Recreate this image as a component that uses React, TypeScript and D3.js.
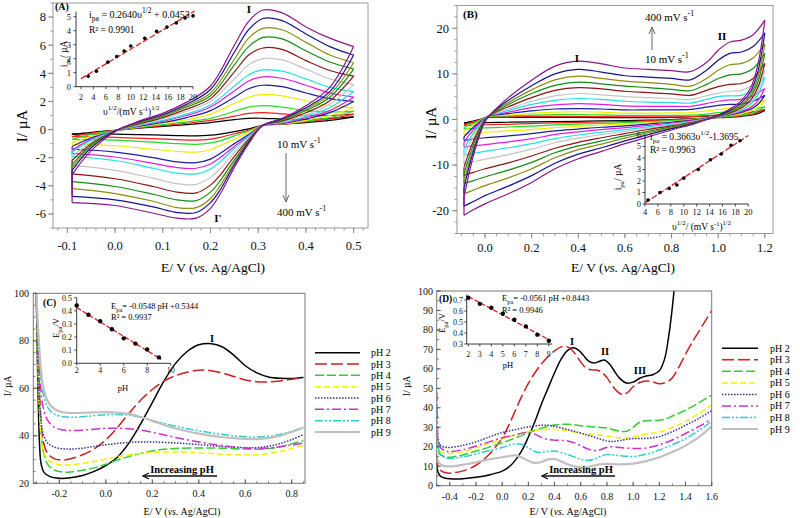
import React from 'react';
import * as d3 from 'd3';

const SERIF = '"Liberation Serif", "Times New Roman", serif';

// colour cycle for the CV families (innermost = slowest scan)
const cvColors = ['#000000', '#ff1c1c', '#22dd22', '#eeee00', '#1c1c9c', '#e020e0', '#20e0e0', '#c4c4c4', '#8c1414', '#148c14', '#8c8c14', '#14148c', '#8c148c'];

// ---------------- Panel A ----------------
const aAnodicE = [-0.09, -0.05, 0, 0.05, 0.1, 0.15, 0.2, 0.25, 0.28, 0.31, 0.35, 0.4, 0.45, 0.5];
const aAnodicI = [
  [-0.35, -0.2, -0.05, 0.1, 0.22, 0.35, 0.5, 0.7, 0.8, 0.8, 0.75, 0.7, 0.8, 0.9],
  [-0.5, -0.25, -0.05, 0.12, 0.28, 0.45, 0.65, 0.95, 1.15, 1.2, 1.12, 1.0, 1.0, 1.1],
  [-0.7, -0.35, -0.08, 0.15, 0.35, 0.55, 0.8, 1.3, 1.6, 1.7, 1.6, 1.35, 1.25, 1.3],
  [-0.95, -0.5, -0.1, 0.2, 0.45, 0.7, 1.1, 1.85, 2.3, 2.5, 2.4, 2.05, 1.7, 1.55],
  [-1.2, -0.6, -0.1, 0.25, 0.5, 0.85, 1.35, 2.3, 2.9, 3.15, 3.05, 2.6, 2.2, 2.0],
  [-1.45, -0.7, -0.1, 0.28, 0.6, 1.0, 1.6, 2.75, 3.45, 3.75, 3.65, 3.15, 2.6, 2.3],
  [-1.6, -0.75, -0.1, 0.3, 0.65, 1.1, 1.75, 3.1, 3.9, 4.25, 4.15, 3.6, 3.0, 2.7],
  [-1.9, -0.9, -0.1, 0.35, 0.75, 1.3, 2.0, 3.6, 4.6, 5.05, 4.95, 4.3, 3.6, 3.2],
  [-2.2, -1.0, -0.1, 0.4, 0.85, 1.45, 2.2, 4.1, 5.3, 5.8, 5.7, 4.9, 4.2, 3.8],
  [-2.5, -1.1, -0.1, 0.45, 0.95, 1.6, 2.4, 4.6, 5.9, 6.55, 6.45, 5.6, 4.8, 4.3],
  [-2.7, -1.2, -0.1, 0.5, 1.0, 1.7, 2.6, 5.0, 6.5, 7.2, 7.1, 6.2, 5.3, 4.75],
  [-2.9, -1.3, -0.1, 0.55, 1.05, 1.8, 2.85, 5.5, 7.1, 7.9, 7.75, 6.8, 5.9, 5.3],
  [-3.2, -1.5, -0.15, 0.6, 1.15, 1.95, 3.1, 6.0, 7.7, 8.5, 8.3, 7.3, 6.5, 5.9],
];
const aCathodicE = [0.5, 0.45, 0.4, 0.35, 0.31, 0.28, 0.25, 0.22, 0.2, 0.17, 0.13, 0.08, 0.0, -0.09];
const aCathodicI = [
  [0.9, 0.65, 0.5, 0.38, 0.3, 0.05, -0.15, -0.32, -0.4, -0.45, -0.43, -0.38, -0.33, -0.3],
  [1.1, 0.75, 0.55, 0.38, 0.3, -0.05, -0.3, -0.55, -0.68, -0.75, -0.72, -0.65, -0.55, -0.5],
  [1.3, 0.85, 0.6, 0.4, 0.3, -0.1, -0.45, -0.8, -0.95, -1.05, -1.0, -0.9, -0.75, -0.7],
  [1.55, 1.0, 0.65, 0.4, 0.3, -0.2, -0.7, -1.15, -1.45, -1.6, -1.55, -1.4, -1.15, -1.05],
  [2.0, 1.2, 0.75, 0.42, 0.3, -0.35, -1.0, -1.7, -2.1, -2.35, -2.3, -2.0, -1.6, -1.4],
  [2.3, 1.35, 0.85, 0.45, 0.3, -0.45, -1.2, -2.0, -2.45, -2.75, -2.7, -2.4, -1.95, -1.7],
  [2.7, 1.55, 0.95, 0.5, 0.3, -0.5, -1.35, -2.3, -2.8, -3.15, -3.1, -2.75, -2.2, -1.9],
  [3.2, 1.8, 1.05, 0.55, 0.3, -0.6, -1.65, -2.8, -3.4, -3.9, -3.85, -3.45, -2.9, -2.55],
  [3.8, 2.05, 1.2, 0.6, 0.3, -0.7, -1.9, -3.25, -3.95, -4.5, -4.45, -4.05, -3.5, -3.15],
  [4.3, 2.3, 1.35, 0.65, 0.3, -0.8, -2.15, -3.65, -4.45, -5.05, -5.0, -4.6, -4.05, -3.7],
  [4.75, 2.5, 1.45, 0.7, 0.3, -0.85, -2.35, -4.0, -4.9, -5.55, -5.55, -5.1, -4.55, -4.2],
  [5.3, 2.7, 1.55, 0.75, 0.3, -0.9, -2.5, -4.3, -5.2, -5.9, -5.9, -5.5, -5.0, -4.75],
  [5.9, 3.0, 1.7, 0.8, 0.3, -1.0, -2.7, -4.6, -5.6, -6.3, -6.3, -5.95, -5.4, -5.2],
];
const aXTicks = [-0.1, 0, 0.1, 0.2, 0.3, 0.4, 0.5];
const aYTicks = [-6, -4, -2, 0, 2, 4, 6, 8];
const aInsetX = [3.16, 4.47, 6.32, 7.75, 8.94, 10, 12.25, 14.14, 15.81, 17.32, 18.71, 20];
const aInsetY = [0.75, 1.1, 1.75, 2.15, 2.55, 2.9, 3.45, 3.95, 4.25, 4.55, 4.9, 5.05];
const aInsetErr = [0.08, 0.1, 0.08, 0.07, 0.1, 0.09, 0.1, 0.08, 0.07, 0.08, 0.1, 0.08];
const aInsetXTicks = [2, 4, 6, 8, 10, 12, 14, 16, 18, 20];
const aInsetYTicks = [0, 1, 2, 3, 4, 5];
const aFit = [0.264, 0.0453];

// ---------------- Panel B ----------------
const bAnodicE = [-0.09, -0.06, -0.03, 0.0, 0.02, 0.05, 0.1, 0.2, 0.3, 0.4, 0.5, 0.6, 0.7, 0.8, 0.88, 0.95, 1.0, 1.05, 1.1, 1.15, 1.2];
const bAnodicI = [
  [-0.8, -0.45, -0.1, 0.3, 0.5, 0.5, 0.5, 0.48, 0.46, 0.45, 0.42, 0.4, 0.4, 0.45, 0.6, 0.75, 0.9, 1.1, 1.3, 1.6, 2.0],
  [-1.2, -0.7, -0.2, 0.35, 0.6, 0.6, 0.62, 0.68, 0.7, 0.7, 0.65, 0.6, 0.58, 0.58, 0.6, 0.8, 1.0, 1.2, 1.4, 1.7, 2.2],
  [-1.8, -1.0, -0.35, 0.4, 0.7, 0.75, 0.8, 0.95, 1.05, 1.1, 1.0, 0.9, 0.9, 0.92, 0.95, 1.2, 1.5, 1.7, 1.9, 2.2, 2.8],
  [-2.6, -1.5, -0.6, 0.4, 0.8, 0.85, 1.0, 1.35, 1.6, 1.7, 1.6, 1.4, 1.4, 1.45, 1.5, 1.9, 2.2, 2.5, 2.6, 3.1, 4.2],
  [-3.8, -2.2, -0.9, 0.4, 0.85, 1.0, 1.3, 1.9, 2.3, 2.4, 2.3, 2.1, 2.1, 2.1, 2.2, 2.7, 3.1, 3.3, 3.4, 4.0, 5.3],
  [-5, -2.9, -1.2, 0.3, 0.9, 1.1, 1.6, 2.6, 3.2, 3.5, 3.3, 3.0, 2.9, 2.9, 2.9, 3.5, 4.0, 4.3, 4.4, 5.2, 6.8],
  [-6.5, -3.8, -1.6, 0.2, 0.9, 1.3, 2.0, 3.3, 4.2, 4.6, 4.4, 4.0, 3.8, 3.7, 3.6, 4.4, 5.0, 5.2, 5.3, 6.5, 9.3],
  [-8, -4.8, -2.1, 0.1, 0.9, 1.5, 2.3, 4.0, 5.2, 5.7, 5.4, 5.0, 4.8, 4.6, 4.4, 5.2, 5.8, 6.2, 6.4, 7.6, 10.8],
  [-10.5, -6, -2.6, 0, 0.9, 1.7, 2.8, 4.8, 6.4, 7.0, 6.7, 6.2, 5.9, 5.6, 5.3, 6.4, 7.2, 7.7, 7.9, 9.0, 12.3],
  [-12, -7, -3, -0.1, 0.9, 1.9, 3.3, 5.7, 7.5, 8.2, 7.8, 7.3, 7.0, 6.6, 6.3, 7.7, 9.0, 9.8, 10.0, 11.2, 14.5],
  [-13.5, -8, -3.5, -0.2, 0.9, 2.1, 3.7, 6.5, 8.7, 9.5, 9.0, 8.4, 8.1, 7.7, 7.3, 9.0, 10.8, 12.0, 12.3, 13.5, 16.6],
  [-15, -8.8, -4, -0.3, 0.9, 2.3, 4.2, 7.4, 10.0, 11.0, 10.4, 9.6, 9.3, 9.0, 8.7, 10.8, 13.0, 14.5, 14.8, 16.0, 19.0],
  [-17, -10, -4.5, -0.5, 0.9, 2.5, 4.8, 8.6, 11.7, 12.8, 12.2, 11.3, 11.0, 10.7, 10.5, 12.5, 15.2, 17.0, 17.4, 18.6, 21.8],
];
const bCathodicE = [1.2, 1.17, 1.14, 1.1, 1.05, 1.0, 0.95, 0.9, 0.8, 0.7, 0.6, 0.5, 0.4, 0.3, 0.2, 0.1, 0.0, -0.05, -0.09];
const bCathodicI = [
  [2.0, 1.3, 0.95, 0.7, 0.5, 0.4, 0.3, 0.2, 0.0, -0.15, -0.25, -0.32, -0.4, -0.45, -0.52, -0.6, -0.68, -0.75, -0.8],
  [2.2, 1.5, 1.1, 0.8, 0.6, 0.45, 0.3, 0.15, -0.1, -0.3, -0.45, -0.55, -0.65, -0.75, -0.9, -1.05, -1.15, -1.25, -1.3],
  [2.8, 1.9, 1.4, 1.0, 0.7, 0.5, 0.3, 0.1, -0.25, -0.5, -0.7, -0.85, -1.0, -1.2, -1.45, -1.65, -1.85, -1.95, -2.05],
  [4.2, 2.7, 1.9, 1.3, 0.9, 0.55, 0.25, 0, -0.45, -0.75, -1.0, -1.25, -1.5, -1.8, -2.2, -2.5, -2.8, -3.0, -3.2],
  [5.3, 3.3, 2.3, 1.6, 1.0, 0.6, 0.25, -0.1, -0.6, -1.0, -1.4, -1.7, -2.1, -2.5, -3.1, -3.6, -4.0, -4.3, -4.6],
  [6.8, 4.1, 2.7, 1.8, 1.1, 0.6, 0.2, -0.2, -0.8, -1.3, -1.8, -2.2, -2.7, -3.3, -4.2, -4.9, -5.5, -5.8, -6.1],
  [9.3, 5.4, 3.4, 2.1, 1.2, 0.6, 0.15, -0.3, -1.0, -1.6, -2.2, -2.8, -3.4, -4.2, -5.3, -6.2, -7.0, -7.4, -7.8],
  [10.8, 6.2, 3.8, 2.3, 1.3, 0.7, 0.1, -0.4, -1.2, -1.9, -2.6, -3.3, -4.1, -5.1, -6.5, -7.7, -8.7, -9.3, -9.8],
  [12.3, 7.0, 4.3, 2.6, 1.4, 0.7, 0.05, -0.5, -1.4, -2.2, -3.1, -4.0, -5.0, -6.3, -8.0, -9.5, -10.8, -11.6, -12.3],
  [14.5, 8.2, 5.0, 3.0, 1.6, 0.8, 0, -0.6, -1.6, -2.6, -3.6, -4.7, -5.8, -7.3, -9.4, -11.1, -12.6, -13.4, -14],
  [16.6, 9.2, 5.5, 3.3, 1.8, 0.8, 0, -0.7, -1.8, -2.9, -4.1, -5.4, -6.6, -8.4, -10.8, -12.8, -14.5, -15.5, -16.3],
  [19.0, 10.5, 6.2, 3.7, 2.0, 0.9, 0, -0.8, -2.0, -3.3, -4.7, -6.2, -7.6, -9.6, -12.3, -14.6, -16.7, -18, -19],
  [21.8, 12, 7, 4.2, 2.3, 1.0, 0, -0.9, -2.3, -3.8, -5.3, -7.0, -8.6, -10.8, -13.8, -16.3, -18.5, -19.8, -21],
];
const bXTicks = [0, 0.2, 0.4, 0.6, 0.8, 1.0, 1.2];
const bYTicks = [-20, -10, 0, 10, 20];
const bInsetX = [4.47, 6.32, 7.75, 8.94, 10, 12.25, 14.14, 15.81, 17.32, 18.71];
const bInsetY = [0.35, 1.0, 1.35, 1.65, 2.25, 3.0, 3.85, 4.35, 5.1, 5.5];
const bInsetXTicks = [4, 6, 8, 10, 12, 14, 16, 18, 20];
const bInsetYTicks = [0, 1, 2, 3, 4, 5, 6];
const bFit = [0.3663, -1.3695];

// ---------------- Panels C & D (pH) ----------------
const phLabels = ['pH 2', 'pH 3', 'pH 4', 'pH 5', 'pH 6', 'pH 7', 'pH 8', 'pH 9'];
const phColors = ['#000000', '#cc2020', '#33cc33', '#f2f200', '#303090', '#cc30cc', '#30cccc', '#c0c0c0'];
const phDash = ['', '12,4', '9,3', '6,3', '1.5,1.5', '9,3,2,3', '8,2,2,2,2,2', ''];
const phWidth = [1.5, 1.5, 1.5, 1.5, 1.5, 1.5, 1.5, 2.2];

const cPH2 = [[-0.3, 105], [-0.292, 60], [-0.285, 36], [-0.278, 28], [-0.265, 24.5], [-0.24, 22.8], [-0.2, 22.1], [-0.16, 22.2], [-0.1, 23.3], [-0.05, 25], [0, 27.5], [0.05, 31], [0.1, 37], [0.15, 45], [0.2, 54], [0.25, 63], [0.3, 70.5], [0.35, 75.5], [0.4, 78.3], [0.455, 78.8], [0.5, 77.5], [0.55, 74], [0.6, 69.5], [0.65, 66.5], [0.7, 64.8], [0.75, 64.2], [0.8, 64.1], [0.85, 64.5]];
const cPH3 = [[-0.3, 105], [-0.29, 70], [-0.28, 48], [-0.27, 38], [-0.25, 32.5], [-0.22, 30.3], [-0.19, 29.8], [-0.15, 30.3], [-0.1, 32], [-0.05, 34.5], [0, 38.3], [0.05, 43.5], [0.1, 49.5], [0.15, 55], [0.2, 59.5], [0.25, 63], [0.3, 65.3], [0.35, 66.8], [0.4, 67.6], [0.43, 67.7], [0.5, 66.5], [0.55, 65], [0.6, 63.5], [0.65, 62.8], [0.7, 62.7], [0.75, 63.1], [0.8, 63.8], [0.85, 64.5]];
const cPH4 = [[-0.3, 105], [-0.29, 65], [-0.28, 44], [-0.27, 34], [-0.25, 28], [-0.22, 25.5], [-0.18, 24.7], [-0.15, 24.8], [-0.1, 25.5], [-0.05, 26.5], [0, 28], [0.05, 29.8], [0.1, 31.3], [0.15, 32.6], [0.2, 33.6], [0.25, 34.3], [0.3, 34.7], [0.4, 34.9], [0.5, 34.8], [0.6, 34.4], [0.65, 34.3], [0.7, 34.6], [0.75, 35.4], [0.8, 36.6], [0.85, 38]];
const cPH5 = [[-0.3, 105], [-0.29, 60], [-0.28, 42], [-0.27, 34], [-0.25, 30], [-0.22, 28.3], [-0.18, 27.7], [-0.15, 27.8], [-0.1, 28.4], [-0.05, 29.2], [0, 30.2], [0.05, 31.2], [0.1, 32], [0.15, 32.6], [0.2, 33], [0.3, 33.2], [0.4, 32.8], [0.5, 32.2], [0.6, 31.9], [0.65, 32], [0.7, 32.5], [0.75, 33.4], [0.8, 34.6], [0.85, 36]];
const cPH6 = [[-0.3, 105], [-0.29, 62], [-0.28, 48], [-0.27, 41], [-0.25, 37], [-0.22, 35.2], [-0.18, 34.5], [-0.15, 34.4], [-0.1, 34.8], [-0.05, 35.5], [0, 36.2], [0.05, 36.8], [0.1, 37.2], [0.15, 37.4], [0.2, 37.4], [0.3, 37], [0.4, 36.3], [0.5, 35.5], [0.6, 35], [0.65, 35], [0.7, 35.6], [0.75, 36.7], [0.8, 38.4], [0.85, 40.5]];
const cPH7 = [[-0.3, 105], [-0.29, 75], [-0.28, 60], [-0.27, 52], [-0.25, 46.5], [-0.22, 43.5], [-0.18, 42.4], [-0.15, 42.2], [-0.1, 42.4], [-0.05, 42.8], [0, 43.1], [0.05, 43.2], [0.1, 43], [0.15, 42.4], [0.2, 41.5], [0.25, 40.4], [0.3, 39.3], [0.35, 38.3], [0.4, 37.4], [0.45, 36.6], [0.5, 35.9], [0.55, 35.3], [0.6, 34.9], [0.65, 34.7], [0.7, 34.9], [0.75, 35.4], [0.8, 36.1], [0.85, 37]];
const cPH8 = [[-0.3, 105], [-0.29, 80], [-0.28, 66], [-0.27, 58], [-0.25, 52], [-0.22, 49], [-0.18, 48], [-0.15, 47.8], [-0.1, 48], [-0.05, 48.5], [0, 48.9], [0.05, 49], [0.1, 48.7], [0.15, 47.8], [0.2, 46.5], [0.25, 45.2], [0.3, 44], [0.35, 43], [0.4, 42.1], [0.45, 41.3], [0.5, 40.6], [0.55, 40], [0.6, 39.6], [0.65, 39.5], [0.7, 39.8], [0.75, 40.6], [0.8, 41.9], [0.85, 43.5]];
const cPH9 = [[-0.3, 105], [-0.29, 83], [-0.28, 69], [-0.27, 61], [-0.25, 54.5], [-0.22, 51.2], [-0.18, 49.8], [-0.15, 49.6], [-0.1, 49.7], [-0.05, 49.9], [0, 50], [0.05, 49.8], [0.1, 49.2], [0.15, 47.9], [0.2, 46.3], [0.25, 44.6], [0.3, 43.1], [0.35, 41.9], [0.4, 40.9], [0.45, 40.1], [0.5, 39.5], [0.55, 39], [0.6, 38.7], [0.65, 38.6], [0.7, 39], [0.75, 40], [0.8, 41.6], [0.85, 43.5]];
const cCurves = [cPH2, cPH3, cPH4, cPH5, cPH6, cPH7, cPH8, cPH9];
const cXTicks = [-0.2, 0, 0.2, 0.4, 0.6, 0.8];
const cYTicks = [20, 40, 60, 80, 100];
const cInsetPH = [2, 3, 4, 5, 6, 7, 8, 9];
const cInsetE = [0.44, 0.37, 0.32, 0.26, 0.19, 0.15, 0.105, 0.045];
const cInsetXTicks = [2, 4, 6, 8, 10];
const cInsetYTicks = [0, 0.1, 0.2, 0.3, 0.4, 0.5];
const cFit = [-0.0548, 0.5344];

const dPH2 = [[-0.5, 12], [-0.49, 7], [-0.47, 4.8], [-0.44, 4], [-0.4, 3.6], [-0.35, 3.5], [-0.3, 3.6], [-0.2, 4.3], [-0.1, 5.5], [0, 7.5], [0.05, 9.5], [0.1, 13], [0.15, 18], [0.2, 25], [0.25, 33], [0.3, 42], [0.35, 50], [0.4, 58], [0.45, 65], [0.5, 69.5], [0.54, 70.8], [0.58, 69.8], [0.62, 67], [0.66, 64], [0.7, 63], [0.74, 63.8], [0.78, 64.6], [0.82, 62.5], [0.86, 58.5], [0.9, 55], [0.95, 52.7], [1.0, 53.2], [1.05, 55.2], [1.1, 56.3], [1.15, 57], [1.2, 59], [1.24, 65], [1.27, 76], [1.3, 92], [1.32, 106]];
const dPH3 = [[-0.5, 16], [-0.49, 10], [-0.46, 7.3], [-0.42, 6.5], [-0.38, 6.6], [-0.3, 7.6], [-0.2, 10.5], [-0.1, 16], [0, 24.5], [0.05, 31], [0.1, 38.5], [0.15, 46], [0.2, 52.5], [0.25, 58], [0.3, 62.5], [0.35, 66.3], [0.4, 69.3], [0.45, 71.3], [0.48, 71.6], [0.52, 70.5], [0.56, 67.5], [0.6, 63.5], [0.64, 60.5], [0.68, 59.5], [0.72, 59.4], [0.76, 58.3], [0.8, 55.5], [0.84, 51.5], [0.88, 48.3], [0.92, 46.8], [0.96, 48], [1.0, 50.8], [1.05, 53], [1.1, 53.8], [1.15, 53.3], [1.2, 52.4], [1.25, 53], [1.3, 55.5], [1.35, 61], [1.4, 67.5], [1.45, 73.5], [1.5, 79], [1.55, 84.5], [1.6, 90]];
const dPH4 = [[-0.5, 24], [-0.49, 18], [-0.47, 15.8], [-0.43, 14.8], [-0.4, 14.6], [-0.3, 15.8], [-0.2, 17.8], [-0.1, 19.8], [0, 22], [0.1, 24.5], [0.2, 27.2], [0.3, 29.5], [0.4, 31.2], [0.5, 31.6], [0.6, 30.8], [0.7, 30.2], [0.8, 29.6], [0.9, 28], [0.95, 28], [1.0, 30], [1.05, 32.6], [1.1, 33.4], [1.2, 33.6], [1.25, 34.3], [1.3, 35.8], [1.4, 38.8], [1.5, 42.5], [1.6, 46.5]];
const dPH5 = [[-0.5, 22], [-0.49, 18.5], [-0.46, 17], [-0.42, 16.6], [-0.3, 17.5], [-0.2, 19.5], [-0.1, 21.8], [0, 24], [0.1, 26.2], [0.2, 27.8], [0.3, 28.8], [0.4, 28.9], [0.5, 28.2], [0.6, 27], [0.7, 26.3], [0.8, 25.5], [0.9, 24.5], [1.0, 25], [1.1, 26.5], [1.2, 27.5], [1.3, 30], [1.4, 33], [1.5, 37], [1.6, 41.5]];
const dPH6 = [[-0.5, 30], [-0.49, 23], [-0.46, 20.3], [-0.42, 19.6], [-0.35, 20], [-0.3, 20.7], [-0.2, 22.5], [-0.1, 25], [0, 27.3], [0.1, 28.8], [0.2, 30.2], [0.3, 31], [0.35, 31], [0.4, 30.4], [0.5, 28.8], [0.6, 27], [0.7, 25], [0.8, 23], [0.85, 22.7], [0.9, 23.2], [1.0, 24.2], [1.1, 24.3], [1.2, 25.2], [1.3, 27.8], [1.4, 31], [1.5, 34.5], [1.6, 38.5]];
const dPH7 = [[-0.5, 48], [-0.495, 35], [-0.49, 25], [-0.47, 19.5], [-0.43, 17.8], [-0.4, 17.5], [-0.3, 18.5], [-0.2, 20.3], [-0.1, 22.5], [0, 24.6], [0.1, 26], [0.15, 27], [0.2, 27.3], [0.25, 26.5], [0.3, 24.8], [0.35, 23.7], [0.4, 23.4], [0.45, 23.3], [0.5, 23], [0.55, 22], [0.6, 20.5], [0.65, 19], [0.7, 18], [0.75, 18.5], [0.8, 19.8], [0.85, 20], [0.9, 19.6], [1.0, 19.1], [1.1, 19.4], [1.2, 21], [1.3, 23.5], [1.4, 26.8], [1.5, 30.3], [1.6, 34.2]];
const dPH8 = [[-0.5, 40], [-0.495, 30], [-0.49, 21], [-0.47, 16], [-0.43, 14.3], [-0.4, 14], [-0.3, 14.8], [-0.2, 16.3], [-0.1, 18], [0, 19.6], [0.05, 20.7], [0.1, 21.5], [0.15, 21.2], [0.2, 19.5], [0.25, 17.6], [0.3, 17.1], [0.35, 17.6], [0.4, 17.8], [0.45, 17], [0.5, 16], [0.55, 14.8], [0.6, 13.6], [0.65, 13], [0.7, 13.5], [0.75, 15], [0.8, 16], [0.85, 15.8], [0.9, 15.4], [1.0, 15], [1.1, 16.2], [1.2, 18.3], [1.3, 21], [1.4, 24.2], [1.5, 28.3], [1.6, 33]];
const dPH9 = [[-0.5, 16], [-0.49, 12.5], [-0.46, 10.5], [-0.42, 9.9], [-0.35, 10.2], [-0.3, 10.8], [-0.2, 12], [-0.1, 13.5], [0, 14.6], [0.05, 15.2], [0.1, 15.6], [0.15, 14.5], [0.2, 12.8], [0.25, 11.7], [0.3, 12.2], [0.35, 13.5], [0.4, 13.7], [0.45, 12.5], [0.5, 11], [0.55, 10], [0.6, 9.5], [0.65, 9.5], [0.7, 10.3], [0.75, 11], [0.8, 11.2], [0.9, 11], [1.0, 11.3], [1.1, 12.6], [1.2, 14.6], [1.3, 17.3], [1.4, 20.6], [1.5, 24.8], [1.6, 30.5]];
const dCurves = [dPH2, dPH3, dPH4, dPH5, dPH6, dPH7, dPH8, dPH9];
const dXTicks = [-0.4, -0.2, 0, 0.2, 0.4, 0.6, 0.8, 1.0, 1.2, 1.4, 1.6];
const dYTicks = [0, 10, 20, 30, 40, 50, 60, 70, 80, 90, 100];
const dInsetPH = [2, 3, 4, 5, 6, 7, 8, 9];
const dInsetE = [0.72, 0.665, 0.63, 0.575, 0.52, 0.46, 0.385, 0.33];
const dInsetXTicks = [2, 3, 4, 5, 6, 7, 8, 9];
const dInsetYTicks = [0.3, 0.4, 0.5, 0.6, 0.7];
const dFit = [-0.0561, 0.8443];

const fmt1 = (v: number) => (Math.abs(v) < 1e-9 ? '0.0' : v.toFixed(1));
const fmt0 = (v: number) => String(Math.round(v));

function Ticks({ x, y, xt, yt, xMinor, yMinor, out, len = 5, color = '#777', xFmt, yFmt, fs, xLabY, yLabX }: any) {
  const [x0] = x.range();
  const [y0] = y.range();
  const dir = out ? 1 : -1;
  return (
    <g>
      {xMinor.map((v: number, i: number) => (
        <line key={'xm' + i} x1={x(v)} x2={x(v)} y1={y0} y2={y0 + dir * len * 0.55} stroke={color} strokeWidth={0.8} />
      ))}
      {yMinor.map((v: number, i: number) => (
        <line key={'ym' + i} x1={x0} x2={x0 - dir * len * 0.55} y1={y(v)} y2={y(v)} stroke={color} strokeWidth={0.8} />
      ))}
      {xt.map((v: number, i: number) => (
        <g key={'xt' + i}>
          <line x1={x(v)} x2={x(v)} y1={y0} y2={y0 + dir * len} stroke={color} strokeWidth={1} />
          <text x={x(v)} y={xLabY} textAnchor="middle" fontSize={fs} fontFamily={SERIF} fill="#111">{xFmt(v)}</text>
        </g>
      ))}
      {yt.map((v: number, i: number) => (
        <g key={'yt' + i}>
          <line x1={x0} x2={x0 - dir * len} y1={y(v)} y2={y(v)} stroke={color} strokeWidth={1} />
          <text x={yLabX} y={y(v)} dy="0.35em" textAnchor="end" fontSize={fs} fontFamily={SERIF} fill="#111">{yFmt(v)}</text>
        </g>
      ))}
    </g>
  );
}

function Inset({ x, y, xt, yt, xFmt, yFmt, xLabY, yLabX, fs = 8 }: any) {
  const [x0, x1] = x.range();
  const [y0, y1] = y.range();
  return (
    <g>
      <line x1={x0} x2={x1} y1={y0} y2={y0} stroke="#222" strokeWidth={0.9} />
      <line x1={x0} x2={x0} y1={y0} y2={y1} stroke="#222" strokeWidth={0.9} />
      {xt.map((v: number, i: number) => (
        <g key={'x' + i}>
          <line x1={x(v)} x2={x(v)} y1={y0} y2={y0 + 2.5} stroke="#222" strokeWidth={0.8} />
          <text x={x(v)} y={xLabY} textAnchor="middle" fontSize={fs} fontFamily={SERIF} fill="#111">{xFmt(v)}</text>
        </g>
      ))}
      {yt.map((v: number, i: number) => (
        <g key={'y' + i}>
          <line x1={x0} x2={x0 - 2.5} y1={y(v)} y2={y(v)} stroke="#222" strokeWidth={0.8} />
          <text x={yLabX} y={y(v)} dy="0.35em" textAnchor="end" fontSize={fs} fontFamily={SERIF} fill="#111">{yFmt(v)}</text>
        </g>
      ))}
    </g>
  );
}

function VArrow({ x, y1, y2, color = '#666' }: any) {
  const d = y2 > y1 ? 1 : -1;
  return (
    <g stroke={color} fill="none" strokeWidth={1}>
      <line x1={x} x2={x} y1={y1} y2={y2} />
      <path d={`M${x - 3},${y2 - d * 7} L${x},${y2} L${x + 3},${y2 - d * 7}`} />
    </g>
  );
}

function HArrow({ x1, x2, y }: any) {
  return (
    <g stroke="#111" fill="none" strokeWidth={1.3}>
      <line x1={x1} x2={x2} y1={y} y2={y} />
      <path d={`M${x2 + 6},${y - 3} L${x2},${y} L${x2 + 6},${y + 3}`} />
    </g>
  );
}

export default function App() {
  const curve = d3.curveCatmullRom.alpha(0.5);

  const ax = d3.scaleLinear().domain([-0.13, 0.53]).range([53, 368]);
  const ay = d3.scaleLinear().domain([-7, 9]).range([228, 3]);
  const aLine = d3.line<number[]>().x(d => ax(d[0])).y(d => ay(d[1])).curve(curve);
  const aix = d3.scaleLinear().domain([1.2, 20]).range([76, 193]);
  const aiy = d3.scaleLinear().domain([0, 5.35]).range([86.7, 11.7]);

  const bx = d3.scaleLinear().domain([-0.12, 1.235]).range([457, 773]);
  const by = d3.scaleLinear().domain([-25, 25]).range([233.5, 5.5]);
  const bLine = d3.line<number[]>().x(d => bx(d[0])).y(d => by(d[1])).curve(curve);
  const bix = d3.scaleLinear().domain([4, 20]).range([645, 748.3]);
  const biy = d3.scaleLinear().domain([0, 6]).range([204, 135]);

  const cx = d3.scaleLinear().domain([-0.312, 0.857]).range([33.3, 305]);
  const cy = d3.scaleLinear().domain([20, 100]).range([483.3, 293.3]);
  const cLine = d3.line<number[]>().x(d => cx(d[0])).y(d => cy(d[1])).curve(curve);
  const cix = d3.scaleLinear().domain([2, 10]).range([76.7, 170.7]);
  const ciy = d3.scaleLinear().domain([0, 0.5]).range([363.3, 297.7]);

  const dx = d3.scaleLinear().domain([-0.5, 1.6]).range([436.7, 711.7]);
  const dy = d3.scaleLinear().domain([0, 100]).range([485.7, 291]);
  const dLine = d3.line<number[]>().x(d => dx(d[0])).y(d => dy(d[1])).curve(curve);
  const dix = d3.scaleLinear().domain([1.86, 9.3]).range([466.7, 552.3]);
  const diy = d3.scaleLinear().domain([0.3, 0.75]).range([344, 294.5]);

  const rng = (a: number, b: number, s: number) => d3.range(Math.round(a / s), Math.round(b / s) + 1).map(k => +(k * s).toFixed(4));

  const legendRowsC = phLabels.map((_, i) => 352.7 + i * 11.33);
  const legendRowsD = phLabels.map((_, i) => 348.3 + i * 11.53);

  return (
    <svg width={800} height={518} style={{ position: 'absolute', left: 0, top: 0, background: '#fff' }} fontFamily={SERIF}>
      <defs>
        <clipPath id="clipA"><rect x={53} y={3} width={315} height={225} /></clipPath>
        <clipPath id="clipB"><rect x={457} y={5.5} width={316} height={228} /></clipPath>
        <clipPath id="clipC"><rect x={33.3} y={293.3} width={271.7} height={190} /></clipPath>
        <clipPath id="clipD"><rect x={436.7} y={291} width={275} height={194.7} /></clipPath>
      </defs>
      <rect x={0} y={0} width={800} height={518} fill="#fff" />

      {/* ================= Panel A ================= */}
      <g clipPath="url(#clipA)">
        {aAnodicI.map((ys, k) => {
          const an = aAnodicE.map((e, i) => [e, ys[i]]);
          const ca = aCathodicE.map((e, i) => [e, aCathodicI[k][i]]);
          return (
            <g key={k} stroke={cvColors[k]} strokeWidth={1.2} fill="none">
              <path d={aLine(an) || ''} />
              <path d={aLine(ca) || ''} />
              <line x1={ax(ca[ca.length - 1][0])} x2={ax(an[0][0])} y1={ay(ca[ca.length - 1][1])} y2={ay(an[0][1])} />
            </g>
          );
        })}
      </g>
      <rect x={53} y={3} width={315} height={225} fill="none" stroke="#9a9a9a" strokeWidth={1} />
      <Ticks x={ax} y={ay} xt={aXTicks} yt={aYTicks} xMinor={rng(-0.12, 0.52, 0.02)} yMinor={rng(-7, 9, 1)} out len={5}
        xFmt={fmt1} yFmt={fmt0} fs={12.5} xLabY={250} yLabX={46} color="#888" />
      <text transform="translate(27,126) rotate(-90)" textAnchor="middle" fontSize={15}>I/ µA</text>
      <text x={213} y={272} textAnchor="middle" fontSize={13.5}>E/ V (<tspan fontStyle="italic">vs.</tspan> Ag/AgCl)</text>

      <Inset x={aix} y={aiy} xt={aInsetXTicks} yt={aInsetYTicks} xFmt={fmt0} yFmt={fmt0} xLabY={99.5} yLabX={71} fs={8.5} />
      <line x1={aix(2)} x2={aix(20.3)} y1={aiy(aFit[0] * 2 + aFit[1])} y2={aiy(aFit[0] * 20.3 + aFit[1])} stroke="#e02020" strokeWidth={1.3} strokeDasharray="6,2" />
      {aInsetX.map((v, i) => (
        <g key={i}>
          <line x1={aix(v)} x2={aix(v)} y1={aiy(aInsetY[i] - aInsetErr[i])} y2={aiy(aInsetY[i] + aInsetErr[i])} stroke="#555" strokeWidth={0.7} />
          <circle cx={aix(v)} cy={aiy(aInsetY[i])} r={1.8} fill="#000" />
        </g>
      ))}
      <text x={55} y={9.5} fontSize={10} fontWeight="bold">(A)</text>
      <text x={89} y={18} fontSize={10}>i<tspan dy={3} fontSize={7.5}>pa</tspan><tspan dy={-3}> = 0.2640υ</tspan><tspan dy={-5} fontSize={7.5}>1/2</tspan><tspan dy={5}> + 0.0453</tspan></text>
      <text x={89} y={32.5} fontSize={9.5}>R² = 0.9901</text>
      <text transform="translate(67,54) rotate(-90)" textAnchor="middle" fontSize={9.5}>i<tspan dy={3} fontSize={7}>pa</tspan><tspan dy={-3}>/ µA</tspan></text>
      <text x={103} y={115} fontSize={9.5}>υ<tspan dy={-5} fontSize={7}>1/2</tspan><tspan dy={5}>/(mV s</tspan><tspan dy={-4} fontSize={6.5}>-1</tspan><tspan dy={4}>)</tspan><tspan dy={-5} fontSize={6.5}>1/2</tspan></text>

      <text x={249} y={13} textAnchor="middle" fontSize={11} fontWeight="bold">I</text>
      <text x={218} y={222} textAnchor="middle" fontSize={11} fontWeight="bold">I'</text>
      <text x={277} y={148} fontSize={11}>10 mV s<tspan dy={-5} fontSize={8}>-1</tspan></text>
      <VArrow x={286} y1={153} y2={202} />
      <text x={277} y={216} fontSize={11}>400 mV s<tspan dy={-5} fontSize={8}>-1</tspan></text>

      {/* ================= Panel B ================= */}
      <g clipPath="url(#clipB)">
        {bAnodicI.map((ys, k) => {
          const an = bAnodicE.map((e, i) => [e, ys[i]]);
          const ca = bCathodicE.map((e, i) => [e, bCathodicI[k][i]]);
          return (
            <g key={k} stroke={cvColors[k]} strokeWidth={1.2} fill="none">
              <path d={bLine(an) || ''} />
              <path d={bLine(ca) || ''} />
              <line x1={bx(ca[ca.length - 1][0])} x2={bx(an[0][0])} y1={by(ca[ca.length - 1][1])} y2={by(an[0][1])} />
            </g>
          );
        })}
      </g>
      <rect x={457} y={5.5} width={316} height={228} fill="none" stroke="#9a9a9a" strokeWidth={1} />
      <Ticks x={bx} y={by} xt={bXTicks} yt={bYTicks} xMinor={rng(-0.1, 1.2, 0.05)} yMinor={rng(-25, 25, 2.5)} out len={5}
        xFmt={fmt1} yFmt={fmt0} fs={12.5} xLabY={252} yLabX={449} color="#888" />
      <text transform="translate(436,123) rotate(-90)" textAnchor="middle" fontSize={15}>I/ µA</text>
      <text x={623} y={272} textAnchor="middle" fontSize={13.5}>E/ V (<tspan fontStyle="italic">vs.</tspan> Ag/AgCl)</text>
      <text x={463} y={18} fontSize={11} fontWeight="bold">(B)</text>
      <text x={577} y={62} textAnchor="middle" fontSize={11} fontWeight="bold">I</text>
      <text x={722} y={40} textAnchor="middle" fontSize={11} fontWeight="bold">II</text>
      <text x={645} y={21} fontSize={11}>400 mV s<tspan dy={-5} fontSize={8}>-1</tspan></text>
      <VArrow x={652} y1={50} y2={27} />
      <text x={645} y={63} fontSize={11}>10 mV s<tspan dy={-5} fontSize={8}>-1</tspan></text>

      <Inset x={bix} y={biy} xt={bInsetXTicks} yt={bInsetYTicks} xFmt={fmt0} yFmt={fmt0} xLabY={215} yLabX={641} fs={8.5} />
      <line x1={bix(4)} x2={bix(20)} y1={biy(bFit[0] * 4 + bFit[1])} y2={biy(bFit[0] * 20 + bFit[1])} stroke="#e02020" strokeWidth={1.3} strokeDasharray="6,2" />
      {bInsetX.map((v, i) => (
        <circle key={i} cx={bix(v)} cy={biy(bInsetY[i])} r={1.8} fill="#000" />
      ))}
      <text x={650} y={140} fontSize={9.5}>i<tspan dy={3} fontSize={7}>pa</tspan><tspan dy={-3}> = 0.3663υ</tspan><tspan dy={-5} fontSize={7}>1/2</tspan><tspan dy={5}>-1.3695</tspan></text>
      <text x={650} y={153} fontSize={9.5}>R² = 0.9963</text>
      <text transform="translate(621,177) rotate(-90)" textAnchor="middle" fontSize={9.5}>i<tspan dy={3} fontSize={7}>pa</tspan><tspan dy={-3}>/ µA</tspan></text>
      <text x={672} y={230} fontSize={9.5}>υ<tspan dy={-5} fontSize={7}>1/2</tspan><tspan dy={5}>/ (mV s</tspan><tspan dy={-4} fontSize={6.5}>-1</tspan><tspan dy={4}>)</tspan><tspan dy={-5} fontSize={6.5}>1/2</tspan></text>

      {/* ================= Panel C ================= */}
      <g clipPath="url(#clipC)">
        {cCurves.map((pts, k) => (
          <path key={k} d={cLine(pts) || ''} fill="none" stroke={phColors[k]} strokeWidth={phWidth[k]} strokeDasharray={phDash[k] || undefined} />
        ))}
      </g>
      <rect x={33.3} y={293.3} width={271.7} height={190} fill="none" stroke="#777" strokeWidth={1} />
      <Ticks x={cx} y={cy} xt={cXTicks} yt={cYTicks} xMinor={rng(-0.3, 0.85, 0.05)} yMinor={rng(20, 100, 5)} out={false} len={4}
        xFmt={fmt1} yFmt={fmt0} fs={10} xLabY={497} yLabX={29} color="#555" />
      <text transform="translate(11,386) rotate(-90)" textAnchor="middle" fontSize={9.5}>I/ µA</text>
      <text x={182} y={515} textAnchor="middle" fontSize={10}>E/ V (<tspan fontStyle="italic">vs.</tspan> Ag/AgCl)</text>
      <text x={43} y={306} fontSize={9.5} fontWeight="bold">(C)</text>
      <text x={212} y={342} textAnchor="middle" fontSize={10.5} fontWeight="bold">I</text>
      <text x={182} y={472.5} textAnchor="middle" fontSize={10.5} fontWeight="bold">Increasing pH</text>
      <HArrow x1={217} x2={143} y={476} />

      <Inset x={cix} y={ciy} xt={cInsetXTicks} yt={cInsetYTicks} xFmt={fmt0} yFmt={fmt1} xLabY={373} yLabX={72} fs={8} />
      <line x1={cix(2)} x2={cix(9.2)} y1={ciy(cFit[0] * 2 + cFit[1])} y2={ciy(cFit[0] * 9.2 + cFit[1])} stroke="#e02020" strokeWidth={1.3} strokeDasharray="5,2" />
      {cInsetPH.map((v, i) => (
        <circle key={i} cx={cix(v)} cy={ciy(cInsetE[i])} r={2.2} fill="#000" />
      ))}
      <text x={111} y={309} fontSize={8.5}>E<tspan dy={2.5} fontSize={6.5}>pa</tspan><tspan dy={-2.5}>= -0.0548 pH +0.5344</tspan></text>
      <text x={111} y={320} fontSize={8.5}>R² = 0.9937</text>
      <text transform="translate(59,328) rotate(-90)" textAnchor="middle" fontSize={8.5}>E<tspan dy={2.5} fontSize={6.5}>pa</tspan><tspan dy={-2.5}>/V</tspan></text>
      <text x={123} y={391} textAnchor="middle" fontSize={8.5}>pH</text>

      {phLabels.map((lab, i) => (
        <g key={'lc' + i}>
          <line x1={315} x2={360} y1={legendRowsC[i]} y2={legendRowsC[i]} stroke={phColors[i]} strokeWidth={phWidth[i]} strokeDasharray={phDash[i] || undefined} />
          <text x={371} y={legendRowsC[i]} dy="0.35em" fontSize={10}>{lab}</text>
        </g>
      ))}

      {/* ================= Panel D ================= */}
      <g clipPath="url(#clipD)">
        {dCurves.map((pts, k) => (
          <path key={k} d={dLine(pts) || ''} fill="none" stroke={phColors[k]} strokeWidth={phWidth[k]} strokeDasharray={phDash[k] || undefined} />
        ))}
      </g>
      <rect x={436.7} y={291} width={275} height={194.7} fill="none" stroke="#777" strokeWidth={1} />
      <Ticks x={dx} y={dy} xt={dXTicks} yt={dYTicks} xMinor={rng(-0.5, 1.6, 0.1)} yMinor={rng(0, 100, 5)} out={false} len={4}
        xFmt={fmt1} yFmt={fmt0} fs={10} xLabY={500} yLabX={433} color="#555" />
      <text transform="translate(410,386) rotate(-90)" textAnchor="middle" fontSize={9.5}>I/ µA</text>
      <text x={568} y={515} textAnchor="middle" fontSize={10}>E/ V (<tspan fontStyle="italic">vs.</tspan> Ag/AgCl)</text>
      <text x={439} y={302} fontSize={9.5} fontWeight="bold">(D)</text>
      <text x={572} y={345} textAnchor="middle" fontSize={10.5} fontWeight="bold">I</text>
      <text x={605} y={355} textAnchor="middle" fontSize={10.5} fontWeight="bold">II</text>
      <text x={640} y={374} textAnchor="middle" fontSize={10.5} fontWeight="bold">III</text>
      <text x={581} y={472.5} textAnchor="middle" fontSize={10.5} fontWeight="bold">Increasing pH</text>
      <HArrow x1={615} x2={542} y={476} />

      <Inset x={dix} y={diy} xt={dInsetXTicks} yt={dInsetYTicks} xFmt={fmt0} yFmt={fmt1} xLabY={357} yLabX={463} fs={8} />
      <line x1={dix(2)} x2={dix(9.1)} y1={diy(dFit[0] * 2 + dFit[1])} y2={diy(dFit[0] * 9.1 + dFit[1])} stroke="#e02020" strokeWidth={1.3} strokeDasharray="5,2" />
      {dInsetPH.map((v, i) => (
        <circle key={i} cx={dix(v)} cy={diy(dInsetE[i])} r={2.2} fill="#000" />
      ))}
      <text x={502} y={301} fontSize={8.5}>E<tspan dy={2.5} fontSize={6.5}>pa</tspan><tspan dy={-2.5}>= -0.0561 pH +0.8443</tspan></text>
      <text x={502} y={312.5} fontSize={8.5}>R² = 0.9946</text>
      <text transform="translate(445,323) rotate(-90)" textAnchor="middle" fontSize={8.5}>E<tspan dy={2.5} fontSize={6.5}>pa</tspan><tspan dy={-2.5}>/V</tspan></text>
      <text x={508} y={368} textAnchor="middle" fontSize={8.5}>pH</text>

      {phLabels.map((lab, i) => (
        <g key={'ld' + i}>
          <line x1={722} x2={758} y1={legendRowsD[i]} y2={legendRowsD[i]} stroke={phColors[i]} strokeWidth={phWidth[i]} strokeDasharray={phDash[i] || undefined} />
          <text x={770} y={legendRowsD[i]} dy="0.35em" fontSize={10}>{lab}</text>
        </g>
      ))}
    </svg>
  );
}
